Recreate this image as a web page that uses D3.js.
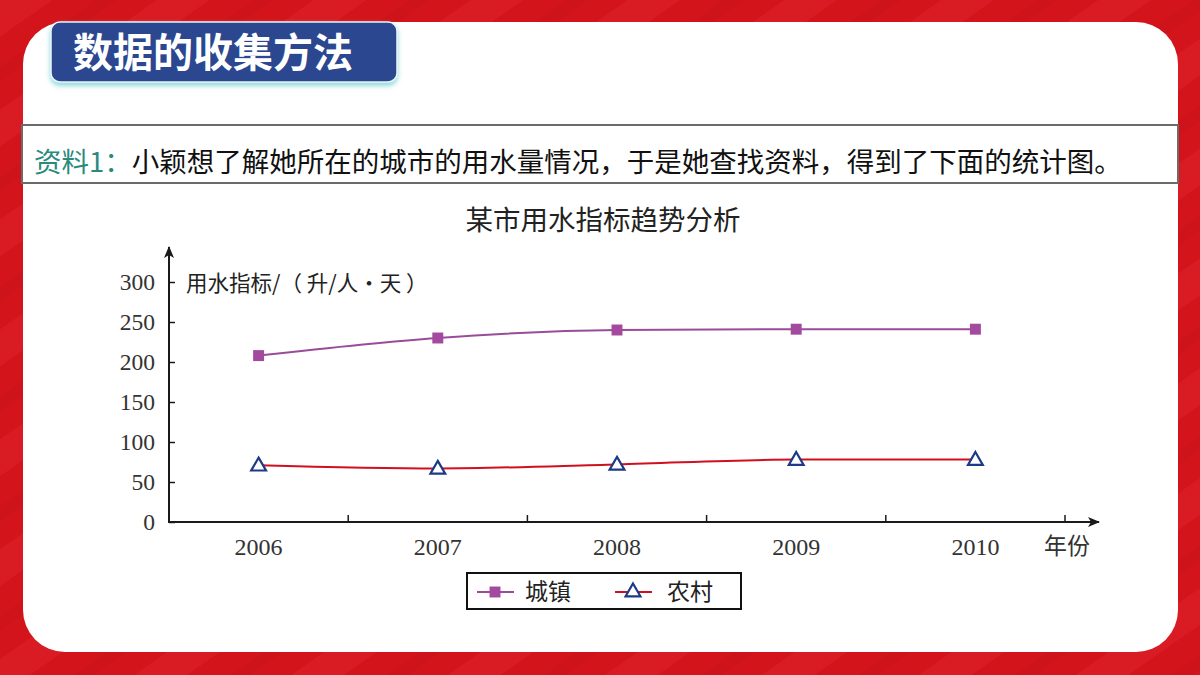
<!DOCTYPE html>
<html>
	<head>
		<meta charset="utf-8">
		<script src="https://d3js.org/d3.v7.min.js"></script>
		<style>
			body { margin: 0; background: #d5161d; }
			svg { display: block; }
		</style>
	</head>
	<body>
		<div id="chart"></div>
	</body>

<script>

// data
var years = ["2006", "2007", "2008", "2009", "2010"];
var town = [208, 230, 240, 241, 241];     // 城镇
var village = [71, 67, 72, 78, 78];       // 农村
var yTicks = [0, 50, 100, 150, 200, 250, 300];
var seriesNames = ["城镇", "农村"];

var width = 1200,
    height = 675;

var serif = "'Liberation Serif', 'DejaVu Serif', 'Noto Sans CJK SC', serif";
var cjk = "'Noto Sans CJK SC', sans-serif";

var svg = d3.select("#chart")
	.append("svg")
	.attr("width", width)
	.attr("height", height);

var defs = svg.append("defs");

// red background with soft diagonal stripes
var pat = defs.append("pattern")
	.attr("id", "bgpat")
	.attr("patternUnits", "userSpaceOnUse")
	.attr("width", 90)
	.attr("height", 90)
	.attr("patternTransform", "rotate(-35)");
pat.append("rect").attr("width", 90).attr("height", 90).attr("fill", "#d3141b");
pat.append("rect").attr("y", 0).attr("width", 90).attr("height", 30).attr("fill", "#dc2028").attr("opacity", 0.7);
pat.append("rect").attr("y", 55).attr("width", 90).attr("height", 12).attr("fill", "#c91119").attr("opacity", 0.5);

svg.append("rect")
	.attr("width", width)
	.attr("height", height)
	.attr("fill", "url(#bgpat)");

// white card
svg.append("rect")
	.attr("x", 23)
	.attr("y", 22)
	.attr("width", 1155)
	.attr("height", 630)
	.attr("rx", 42)
	.attr("fill", "#ffffff");

// title banner with cyan glow
var glow = defs.append("filter").attr("id", "glow").attr("x", "-10%").attr("y", "-20%").attr("width", "120%").attr("height", "160%");
glow.append("feDropShadow")
	.attr("dx", 0).attr("dy", 3).attr("stdDeviation", 2.5)
	.attr("flood-color", "#7fd3d6").attr("flood-opacity", 0.9);

svg.append("rect")
	.attr("x", 51)
	.attr("y", 22)
	.attr("width", 346)
	.attr("height", 60)
	.attr("rx", 9)
	.attr("fill", "#2c4690")
	.attr("stroke", "#e8f6f8")
	.attr("stroke-width", 1.5)
	.attr("filter", "url(#glow)");

svg.append("text")
	.attr("x", 213)
	.attr("y", 67)
	.attr("text-anchor", "middle")
	.attr("font-family", cjk)
	.attr("font-weight", 700)
	.attr("font-size", 40)
	.attr("fill", "#ffffff")
	.text("数据的收集方法");

// text box
svg.append("rect")
	.attr("x", 22)
	.attr("y", 125)
	.attr("width", 1156)
	.attr("height", 58)
	.attr("fill", "none")
	.attr("stroke", "#6b6b6b")
	.attr("stroke-width", 2);

var para = svg.append("text")
	.attr("x", 34)
	.attr("y", 172)
	.attr("font-family", cjk)
	.attr("font-size", 27.5)
	.attr("fill", "#111111");
para.append("tspan").attr("fill", "#2a8a7c").text("资料1：");
para.append("tspan").text("小颖想了解她所在的城市的用水量情况，于是她查找资料，得到了下面的统计图。");

// chart title
svg.append("text")
	.attr("x", 603)
	.attr("y", 230)
	.attr("text-anchor", "middle")
	.attr("font-family", cjk)
	.attr("font-size", 27.5)
	.attr("fill", "#222222")
	.text("某市用水指标趋势分析");

// scales
var x = d3.scaleBand()
	.domain(years)
	.range([169, 1065]);

var y = d3.scaleLinear()
	.domain([0, 300])
	.range([522, 282]);

var axisColor = "#1a1a1a";

// arrow head
defs.append("marker")
	.attr("id", "arrow")
	.attr("viewBox", "0 0 12 10")
	.attr("refX", 11)
	.attr("refY", 5)
	.attr("markerWidth", 12)
	.attr("markerHeight", 10)
	.attr("markerUnits", "userSpaceOnUse")
	.attr("orient", "auto")
	.append("path")
	.attr("d", "M0,0 L12,5 L0,10 L3,5 Z")
	.attr("fill", axisColor);

// y axis: ticks on inside, labels on the left
var yAxis = svg.append("g")
	.attr("transform", "translate(169,0)")
	.call(d3.axisRight(y).tickValues(yTicks).tickSize(6).tickFormat(""));
yAxis.select(".domain").remove();
yAxis.selectAll("line").attr("stroke", axisColor).attr("stroke-width", 1.5);

svg.append("g")
	.selectAll("text")
	.data(yTicks)
	.enter().append("text")
	.attr("x", 155)
	.attr("y", function(d) { return y(d) + 8; })
	.attr("text-anchor", "end")
	.attr("font-family", serif)
	.attr("font-size", 23.5)
	.attr("fill", "#333333")
	.text(function(d) { return d; });

svg.append("line")
	.attr("x1", 169).attr("y1", 523)
	.attr("x2", 169).attr("y2", 247)
	.attr("stroke", axisColor)
	.attr("stroke-width", 2)
	.attr("marker-end", "url(#arrow)");

svg.append("text")
	.attr("x", 186)
	.attr("y", 291)
	.attr("font-family", cjk)
	.attr("font-size", 21.5)
	.attr("fill", "#222222")
	.text("用水指标/（ 升/人·天 ）");

// x axis: tick at the end of each band
svg.append("g")
	.selectAll("line")
	.data(years)
	.enter().append("line")
	.attr("x1", function(d) { return x(d) + x.bandwidth(); })
	.attr("x2", function(d) { return x(d) + x.bandwidth(); })
	.attr("y1", 522)
	.attr("y2", 515)
	.attr("stroke", axisColor)
	.attr("stroke-width", 1.5);

svg.append("line")
	.attr("x1", 168).attr("y1", 522)
	.attr("x2", 1099).attr("y2", 522)
	.attr("stroke", axisColor)
	.attr("stroke-width", 2)
	.attr("marker-end", "url(#arrow)");

svg.append("g")
	.selectAll("text")
	.data(years)
	.enter().append("text")
	.attr("x", function(d) { return x(d) + x.bandwidth() / 2; })
	.attr("y", 555)
	.attr("text-anchor", "middle")
	.attr("font-family", serif)
	.attr("font-size", 24)
	.attr("fill", "#333333")
	.text(function(d) { return d; });

svg.append("text")
	.attr("x", 1044)
	.attr("y", 554)
	.attr("font-family", cjk)
	.attr("font-size", 23)
	.attr("fill", "#333333")
	.text("年份");

// lines
var cx = function(d, i) { return x(years[i]) + x.bandwidth() / 2; };
var line = d3.line()
	.x(cx)
	.y(function(d) { return y(d); })
	.curve(d3.curveMonotoneX);

var purple = "#9a4c9b",
    red = "#d0101f",
    navy = "#1c3a85";

svg.append("path")
	.attr("d", line(town))
	.attr("fill", "none")
	.attr("stroke", purple)
	.attr("stroke-width", 2);

svg.append("path")
	.attr("d", line(village))
	.attr("fill", "none")
	.attr("stroke", red)
	.attr("stroke-width", 2);

var square = d3.symbol().type(d3.symbolSquare).size(120);
var triangle = d3.symbol().type(d3.symbolTriangle).size(95);

svg.append("g")
	.selectAll("path")
	.data(town)
	.enter().append("path")
	.attr("d", square)
	.attr("transform", function(d, i) { return "translate(" + cx(d, i) + "," + y(d) + ")"; })
	.attr("fill", "#a34a9f");

svg.append("g")
	.selectAll("path")
	.data(village)
	.enter().append("path")
	.attr("d", triangle)
	.attr("transform", function(d, i) { return "translate(" + cx(d, i) + "," + (y(d) + 1) + ")"; })
	.attr("fill", "#ffffff")
	.attr("stroke", navy)
	.attr("stroke-width", 2.2);

// legend
var legend = svg.append("g");
legend.append("rect")
	.attr("x", 467)
	.attr("y", 573)
	.attr("width", 274)
	.attr("height", 36)
	.attr("fill", "#ffffff")
	.attr("stroke", "#111111")
	.attr("stroke-width", 2);

var legendItems = [
	{ name: seriesNames[0], color: purple, sym: square, x: 477, tx: 525 },
	{ name: seriesNames[1], color: red, sym: triangle, x: 615, tx: 667 }
];

var li = legend.selectAll(".item")
	.data(legendItems)
	.enter().append("g")
	.attr("class", "item");

li.append("line")
	.attr("x1", function(d) { return d.x; })
	.attr("x2", function(d) { return d.x + 37; })
	.attr("y1", 592)
	.attr("y2", 592)
	.attr("stroke", function(d) { return d.color; })
	.attr("stroke-width", 2);

li.append("path")
	.attr("d", function(d) { return d.sym(); })
	.attr("transform", function(d) { return "translate(" + (d.x + 18) + ",592)"; })
	.attr("fill", function(d, i) { return i === 0 ? "#a34a9f" : "#ffffff"; })
	.attr("stroke", function(d, i) { return i === 0 ? "none" : navy; })
	.attr("stroke-width", 2.2);

li.append("text")
	.attr("x", function(d) { return d.tx; })
	.attr("y", 600)
	.attr("font-family", cjk)
	.attr("font-size", 23)
	.attr("fill", "#222222")
	.text(function(d) { return d.name; });

</script>
</html>
